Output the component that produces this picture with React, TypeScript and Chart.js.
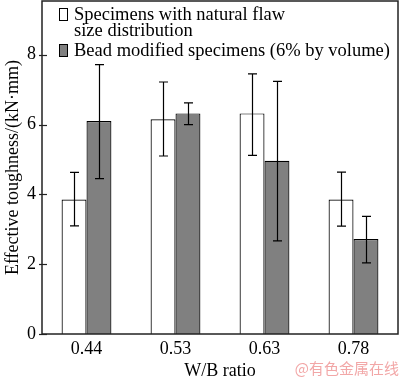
import React, { useEffect, useRef } from "react";
import { Chart, registerables } from "chart.js";

Chart.register(...registerables);

const categories = ["0.44", "0.53", "0.63", "0.78"];
const naturalValues = [3.85, 6.15, 6.32, 3.85];
const naturalErrLow = [3.1, 5.1, 5.12, 3.09];
const naturalErrHigh = [4.63, 7.22, 7.45, 4.64];
const beadValues = [6.1, 6.32, 4.96, 2.72];
const beadErrLow = [4.45, 6.0, 2.67, 2.04];
const beadErrHigh = [7.72, 6.62, 7.24, 3.37];
const yTicks = [0, 2, 4, 6, 8];
const legendLines = ["Specimens with natural flaw", "size distribution", "Bead modified specimens (6% by volume)"];
const watermark = "@有色金属在线";

const SERIF = "'Liberation Serif', 'Times New Roman', serif";

export default function App() {
  const ref = useRef<HTMLCanvasElement>(null);
  useEffect(() => {
    const canvas = ref.current!;
    const errPlugin = {
      id: "errs",
      afterDatasetsDraw(chart: any) {
        const ctx = chart.ctx;
        const y = chart.scales.y;
        const area = chart.chartArea;
        ctx.save();
        // frame
        ctx.strokeStyle = "#222";
        ctx.lineWidth = 1.5;
        ctx.strokeRect(area.left, area.top, area.right - area.left, area.bottom - area.top);
        // ticks
        ctx.lineWidth = 1.2;
        yTicks.forEach((v) => {
          const py = Math.round(y.getPixelForValue(v)) + 0.5;
          ctx.beginPath();
          ctx.moveTo(area.left - 3, py);
          ctx.lineTo(area.left + 5, py);
          ctx.stroke();
        });
        ctx.strokeStyle = "#000";
        const lows = [naturalErrLow, beadErrLow];
        const highs = [naturalErrHigh, beadErrHigh];
        [0, 1].forEach((di) => {
          const meta = chart.getDatasetMeta(di);
          meta.data.forEach((bar: any, i: number) => {
            const x = Math.round(bar.x) + 0.5;
            const y1 = y.getPixelForValue(lows[di][i]);
            const y2 = y.getPixelForValue(highs[di][i]);
            ctx.lineWidth = 1.2;
            ctx.beginPath();
            ctx.moveTo(x, y1);
            ctx.lineTo(x, y2);
            ctx.moveTo(x - 4.5, y1);
            ctx.lineTo(x + 4.5, y1);
            ctx.moveTo(x - 4.5, y2);
            ctx.lineTo(x + 4.5, y2);
            ctx.stroke();
          });
        });
        // legend
        const lx = area.left + 17;
        ctx.lineWidth = 1;
        ctx.fillStyle = "#fff";
        ctx.fillRect(lx + 0.5, 8.5, 8, 12);
        ctx.strokeRect(lx + 0.5, 8.5, 8, 12);
        ctx.fillStyle = "#808080";
        ctx.fillRect(lx + 0.5, 44.5, 8, 12);
        ctx.strokeRect(lx + 0.5, 44.5, 8, 12);
        ctx.fillStyle = "#000";
        ctx.font = "18.5px " + SERIF;
        ctx.textAlign = "left";
        ctx.textBaseline = "alphabetic";
        ctx.fillText(legendLines[0], lx + 15, 20);
        ctx.fillText(legendLines[1], lx + 15, 35.5);
        ctx.fillText(legendLines[2], lx + 15, 56);
        // watermark
        ctx.fillStyle = "#f2a7a7";
        ctx.font = "15px 'Noto Sans CJK SC'";
        ctx.textAlign = "right";
        ctx.fillText(watermark, 399, 374);
        ctx.restore();
      },
    };
    const chart = new Chart(canvas, {
      type: "bar",
      data: {
        labels: categories,
        datasets: [
          {
            label: "natural",
            data: naturalValues,
            backgroundColor: "#ffffff",
            borderColor: "#000",
            borderWidth: 1.2,
            categoryPercentage: 0.56,
            barPercentage: 1,
          },
          {
            label: "bead",
            data: beadValues,
            backgroundColor: "#808080",
            borderColor: "#000",
            borderWidth: 1.2,
            categoryPercentage: 0.56,
            barPercentage: 1,
          },
        ],
      },
      options: {
        responsive: false,
        animation: false,
        layout: { padding: { top: 1, right: 2, left: 0, bottom: 0 } },
        plugins: { legend: { display: false }, tooltip: { enabled: false } },
        scales: {
          x: {
            grid: { display: false, drawTicks: false },
            border: { display: false },
            ticks: { color: "#000", font: { family: SERIF, size: 18 }, padding: 4 },
            title: {
              display: true,
              text: "W/B ratio",
              color: "#000",
              font: { family: SERIF, size: 18 },
              padding: { top: 0, bottom: -4 },
            },
            afterFit(scale: any) {
              scale.height = 44;
              scale.paddingLeft = 0;
              scale.paddingRight = 0;
            },
          },
          y: {
            min: 0,
            max: 9.54,
            grid: { display: false, drawTicks: false },
            border: { display: false },
            ticks: { color: "#000", font: { family: SERIF, size: 18 }, padding: 6 },
            afterBuildTicks(scale: any) {
              scale.ticks = yTicks.map((v) => ({ value: v }));
            },
            title: {
              display: true,
              text: "Effective toughness/(kN·mm)",
              color: "#000",
              font: { family: SERIF, size: 18 },
              padding: { top: 2, bottom: 0 },
            },
            afterFit(scale: any) {
              scale.width = 42;
              scale.paddingTop = 0;
              scale.paddingBottom = 0;
            },
          },
        },
      },
      plugins: [errPlugin],
    });
    return () => chart.destroy();
  }, []);
  return (
    <div style={{ position: "absolute", left: 0, top: 0, width: 400, height: 378, background: "#fff" }}>
      <canvas ref={ref} width={400} height={378} />
    </div>
  );
}
